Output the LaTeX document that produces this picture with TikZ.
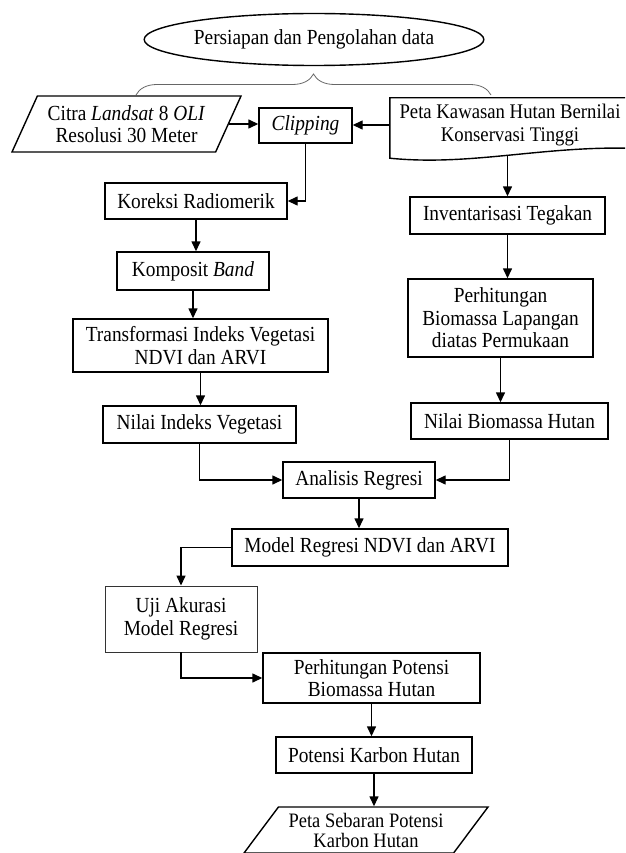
\documentclass[tikz,border=0pt]{standalone}
\usepackage{fontspec}
\setmainfont[FakeStretch=0.9]{Liberation Serif}
\usetikzlibrary{shapes.geometric,arrows.meta,decorations.pathreplacing}

\begin{document}
\begin{tikzpicture}[x=1pt, y=1pt, font=\fontsize{21.5}{22.5}\selectfont]

	\tikzstyle{process_box} = [rectangle, draw=black, line width=1.4pt, align=center, inner sep=0pt]
	\tikzstyle{process_thin} = [rectangle, draw=black!80, line width=0.9pt, align=center, inner sep=0pt]
	\tikzstyle{data_box} = [trapezium, trapezium stretches body, draw=black, line width=1.4pt, align=center, inner sep=0pt]
	\tikzstyle{start_box} = [ellipse, draw=black, line width=1.4pt, inner sep=0pt]
	\tikzstyle{edge} = [-{Triangle[length=10pt, width=9pt]}, line width=1.4pt]

	\useasboundingbox (0,0) rectangle (625,-853);
	\clip (0,0) rectangle (625,-853);
%------------------------------------------------------------
	\node[start_box, minimum width=276, minimum height=52] (start) at (314,-39.5) {Persiapan dan Pengolahan data};

	\coordinate (brace_l) at (136,-95);
	\coordinate (brace_r) at (491,-95);
	\draw[black!60, line width=0.8pt, decorate, decoration={brace, amplitude=21pt}] (brace_l) -- (brace_r);
%------------------------------------------------------------
	\node[data_box, trapezium left angle=56, trapezium right angle=124, minimum width=229, minimum height=56] (citra) at (126.5,-124) {Citra \textit{Landsat} 8 \textit{OLI}\\Resolusi 30 Meter};
	\node[process_box, minimum width=93, minimum height=35] (clip) at (305.5,-125.5) {\textit{Clipping}};
	\node[align=center, inner sep=0pt, minimum width=240, minimum height=54, font=\fontsize{20.8}{22.5}\selectfont] (peta) at (510,-125) {Peta Kawasan Hutan Bernilai\\Konservasi Tinggi};
	\draw[line width=1.4pt] (peta.north west) -- (peta.north east) -- ([yshift=4pt]peta.south east)
		.. controls +(-90,2) and +(80,-8) .. ([yshift=-6pt]peta.south west) -- cycle;
	\coordinate (peta_wave) at ([yshift=-4pt]peta.south);

	\path[edge] (citra.east) edge (citra.east -| clip.west);
	\path[edge] (peta.west) edge (peta.west -| clip.east);
%------------------------------------------------------------
	\node[process_box, minimum width=182, minimum height=36] (koreksi) at (196,-201) {Koreksi Radiomerik};
	\node[process_box, minimum width=152, minimum height=38] (komposit) at (193,-271) {Komposit \textit{Band}};
	\node[process_box, minimum width=255, minimum height=53] (transformasi) at (200.5,-345.5) {Transformasi Indeks Vegetasi\\NDVI dan ARVI};
	\node[process_box, minimum width=193, minimum height=37] (nilai_indeks) at (199.5,-424.5) {Nilai Indeks Vegetasi};

	\draw[edge] (clip.south) |- (koreksi.east);
	\draw[edge] (koreksi.south) -- (koreksi.south |- komposit.north);
	\draw[edge] (komposit.south) -- (komposit.south |- transformasi.north);
	\draw[edge] (transformasi.south) -- (transformasi.south |- nilai_indeks.north);
%------------------------------------------------------------
	\node[process_box, minimum width=195, minimum height=37] (inventarisasi) at (507.5,-215.5) {Inventarisasi Tegakan};
	\node[process_box, minimum width=185, minimum height=78] (hitung_lapangan) at (500.5,-318) {Perhitungan\\Biomassa Lapangan\\diatas Permukaan};
	\node[process_box, minimum width=197, minimum height=36] (nilai_biomassa) at (509.5,-421) {Nilai Biomassa Hutan};

	\draw[edge] (peta_wave -| inventarisasi.north) -- (inventarisasi.north);
	\draw[edge] (inventarisasi.south) -- (inventarisasi.south |- hitung_lapangan.north);
	\draw[edge] (hitung_lapangan.south) -- (hitung_lapangan.south |- nilai_biomassa.north);
%------------------------------------------------------------
	\node[process_box, minimum width=152, minimum height=36] (analisis) at (359,-480) {Analisis Regresi};
	\node[process_box, minimum width=276, minimum height=37] (model) at (370,-547.5) {Model Regresi NDVI dan ARVI};
	\node[process_thin, minimum width=152, minimum height=66] (uji) at (181,-619) {Uji Akurasi\\Model Regresi};

	\draw[edge] (nilai_indeks.south) |- (analisis.west);
	\draw[edge] (nilai_biomassa.south) |- (analisis.east);
	\draw[edge] (analisis.south) -- (analisis.south |- model.north);
	\draw[edge] (model.west) -| (uji.north);
%------------------------------------------------------------
	\node[process_box, minimum width=217, minimum height=50] (hitung_potensi) at (371.5,-678) {Perhitungan Potensi\\Biomassa Hutan};
	\node[process_box, minimum width=196, minimum height=36] (karbon) at (374,-755) {Potensi Karbon Hutan};
	\node[data_box, trapezium left angle=45, trapezium right angle=135, minimum width=244, minimum height=46, font=\fontsize{20.5}{20}\selectfont] (sebaran) at (366,-830) {Peta Sebaran Potensi\\Karbon Hutan};

	\draw[edge] (uji.south) |- (hitung_potensi.west);
	\draw[edge] (hitung_potensi.south) -- (hitung_potensi.south |- karbon.north);
	\draw[edge] (karbon.south) -- (karbon.south |- sebaran.north);

\end{tikzpicture}
\end{document}
